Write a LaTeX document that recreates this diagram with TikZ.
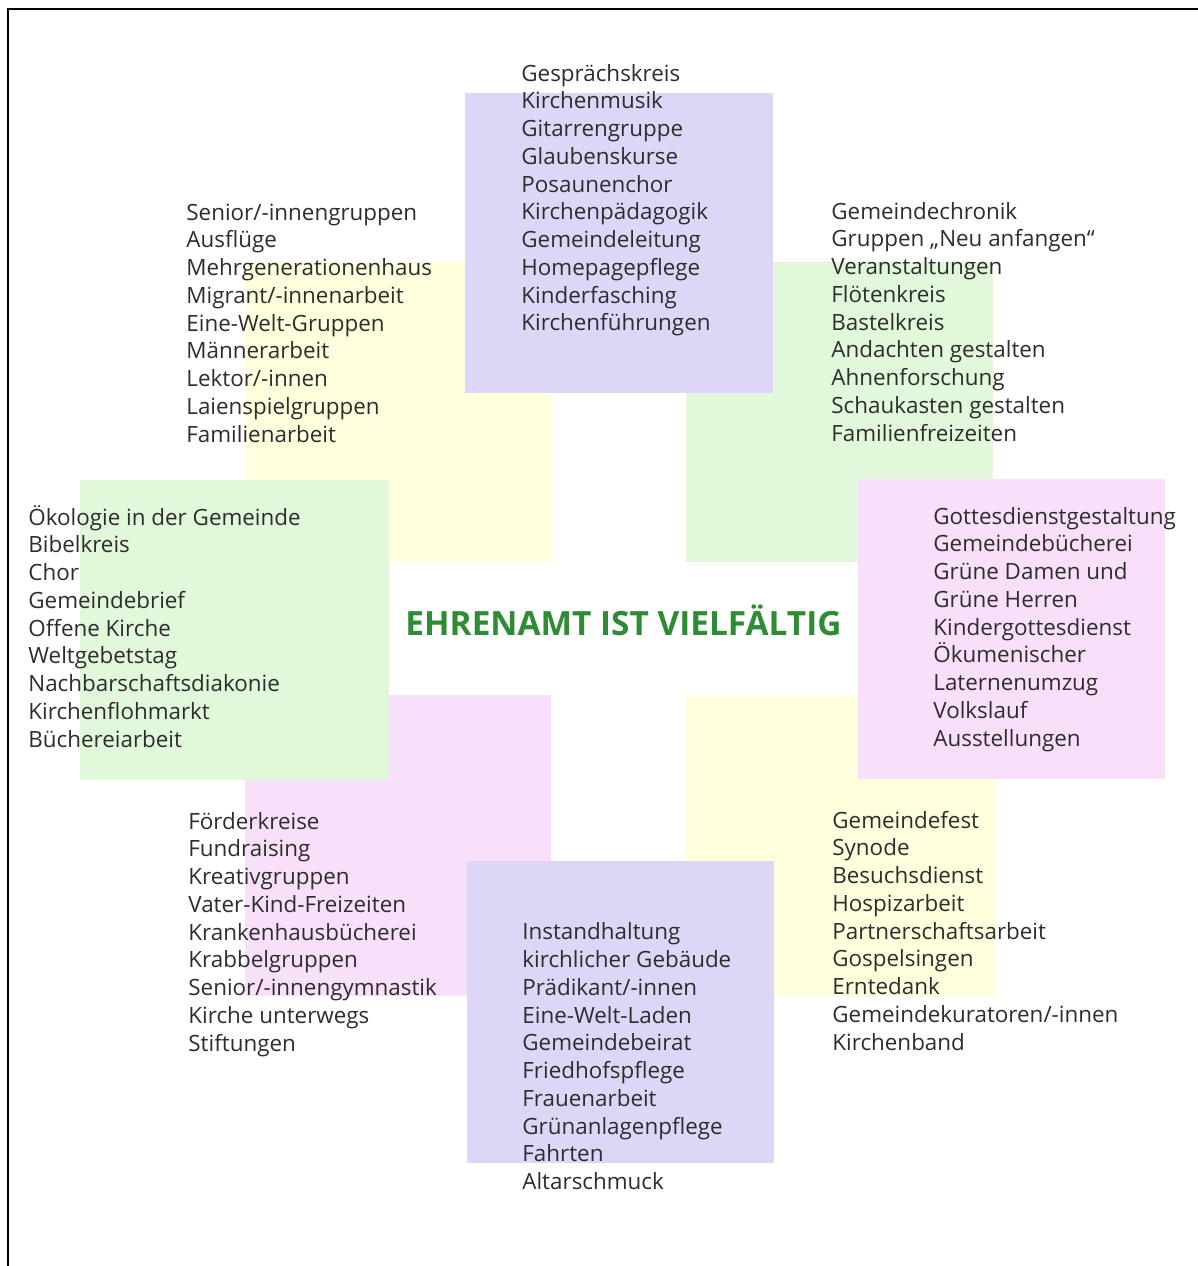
\documentclass[tikz,border=0pt]{standalone}
\usepackage{fontspec}
\setmainfont{Open Sans}
\definecolor{lav}{RGB}{222,214,247}
\definecolor{yel}{RGB}{255,255,222}
\definecolor{grn}{RGB}{226,248,218}
\definecolor{pnk}{RGB}{249,224,250}
\definecolor{txt}{RGB}{45,45,45}
\definecolor{ttl}{RGB}{46,140,52}
\begin{document}
\begin{tikzpicture}[x=0.5pt,y=-0.5pt,
  lst/.style={anchor=base west,align=left,inner sep=0pt,text=txt,
    font=\fontsize{11.2}{13.875}\selectfont},
  ttlstyle/.style={anchor=base,inner sep=0pt,text=ttl,
    font=\fontsize{16.7}{19}\selectfont\bfseries}]
\useasboundingbox (0,0) rectangle (1198,1266);
\fill[white] (0,0) rectangle (1198,1266);
% corner squares
\fill[yel] (245,262) rectangle (551,562);
\fill[grn] (686,262) rectangle (993,562);
\fill[pnk] (245,695) rectangle (551,996);
\fill[yel] (686,695) rectangle (995,996);
% cross squares
\fill[lav] (465,93) rectangle (773,393);
\fill[lav] (467,861) rectangle (774,1163);
\fill[grn] (80,480) rectangle (389,780);
\fill[pnk] (858,479) rectangle (1165,779);
% frame
\draw[line width=0.65pt] (8,1266) -- (8,9) -- (1198,9);
% texts (anchored at the baseline of their last line)
\node[lst] (top) at (521,330.75) {Gesprächskreis\\Kirchenmusik\\Gitarrengruppe\\Glaubenskurse\\Posaunenchor\\Kirchenpädagogik\\Gemeindeleitung\\Homepagepflege\\Kinderfasching\\Kirchenführungen};
\node[lst] (tl) at (186,442) {Senior/-innengruppen\\Ausflüge\\Mehrgenerationenhaus\\Migrant/-innenarbeit\\Eine-Welt-Gruppen\\Männerarbeit\\Lektor/-innen\\Laienspielgruppen\\Familienarbeit};
\node[lst] (tr) at (831,441) {Gemeindechronik\\Gruppen „Neu anfangen“\\Veranstaltungen\\Flötenkreis\\Bastelkreis\\Andachten gestalten\\Ahnenforschung\\Schaukasten gestalten\\Familienfreizeiten};
\node[lst] (left) at (28,747) {Ökologie in der Gemeinde\\Bibelkreis\\Chor\\Gemeindebrief\\Offene Kirche\\Weltgebetstag\\Nachbarschaftsdiakonie\\Kirchenflohmarkt\\Büchereiarbeit};
\node[lst] (right) at (933,746) {Gottesdienstgestaltung\\Gemeindebücherei\\Grüne Damen und\\Grüne Herren\\Kindergottesdienst\\Ökumenischer\\Laternenumzug\\Volkslauf\\Ausstellungen};
\node[lst] (bl) at (188,1051) {Förderkreise\\Fundraising\\Kreativgruppen\\Vater-Kind-Freizeiten\\Krankenhausbücherei\\Krabbelgruppen\\Senior/-innengymnastik\\Kirche unterwegs\\Stiftungen};
\node[lst] (br) at (832,1050) {Gemeindefest\\Synode\\Besuchsdienst\\Hospizarbeit\\Partnerschaftsarbeit\\Gospelsingen\\Erntedank\\Gemeindekuratoren/-innen\\Kirchenband};
\node[lst] (bottom) at (522,1189.5) {Instandhaltung\\kirchlicher Gebäude\\Prädikant/-innen\\Eine-Welt-Laden\\Gemeindebeirat\\Friedhofspflege\\Frauenarbeit\\Grünanlagenpflege\\Fahrten\\Altarschmuck};
\node[ttlstyle] (title) at (623.5,635) {EHRENAMT IST VIELFÄLTIG};
\end{tikzpicture}
\end{document}
